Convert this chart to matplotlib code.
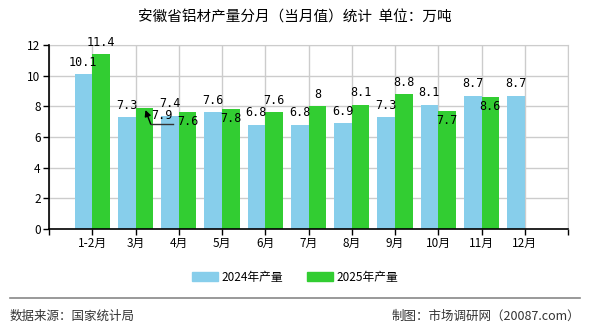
import numpy as np
import matplotlib.pyplot as plt
from matplotlib.lines import Line2D

plt.rcParams['font.family'] = ['Noto Sans CJK SC', 'DejaVu Sans']

months = ['1-2月', '3月', '4月', '5月', '6月', '7月', '8月', '9月', '10月', '11月', '12月']
y2024 = [10.1, 7.3, 7.4, 7.6, 6.8, 6.8, 6.9, 7.3, 8.1, 8.7, 8.7]
y2025 = [11.4, 7.9, 7.6, 7.8, 7.6, 8, 8.1, 8.8, 7.7, 8.6]

# where each 2025 label sits: above the bar, inside it, or pulled out with a leader line
place25 = ['up', 'leader', 'in', 'in', 'up', 'up', 'up', 'up', 'in', 'in']

fig = plt.figure(figsize=(5.9, 3.3), dpi=100)
ax = fig.add_axes([49 / 590, 1 - 229 / 330, 519 / 590, 184 / 330])

x = np.arange(len(months))
w = 0.41
blue = '#87ceeb'
green = '#32cd32'
ax.bar(x - w / 2, y2024, w, color=blue, zorder=2)
x25 = x[:len(y2025)]
ax.bar(x25 + w / 2, y2025, w, color=green, zorder=2)

lab = dict(fontsize=8.5, family=['DejaVu Sans Mono', 'Noto Sans CJK SC'], zorder=4)
for xi, v in zip(x, y2024):
    ax.annotate(f'{v:g}', (xi - w / 2, v), xytext=(0, 4), textcoords='offset points',
                ha='center', va='bottom', **lab)
for xi, v, p in zip(x25, y2025, place25):
    if p == 'leader':
        # elbow leader: short horizontal line, then arrow up to the bar top
        x0, y0 = xi + 0.35, v - 1.05
        ax.plot([x0, x0 + 0.51], [y0, y0], color='#333333', lw=1, zorder=4)
        ax.annotate('', (x0 - 0.12, v - 0.14), xytext=(x0, y0),
                    arrowprops=dict(arrowstyle='-|>', color='black', lw=1, shrinkA=0, shrinkB=0,
                                    mutation_scale=9), zorder=4)
        ax.text(x0 + 0.25, y0 + 0.1, f'{v:g}', ha='center', va='bottom', **lab)
    elif p == 'in':
        ax.annotate(f'{v:g}', (xi + w / 2, v), xytext=(0, -2), textcoords='offset points',
                    ha='center', va='top', **lab)
    else:
        ax.annotate(f'{v:g}', (xi + w / 2, v), xytext=(0, 4), textcoords='offset points',
                    ha='center', va='bottom', **lab)

ax.set_xlim(-1, 11)
ax.set_ylim(0, 12)
ax.set_yticks(range(0, 13, 2))
ax.set_xticks(range(-1, 12))
ax.set_xticklabels([''] + months + [''])
ax.tick_params(axis='both', labelsize=8.5, length=4, width=1, color='black', pad=2)
ax.grid(True, color='#cccccc', lw=1, zorder=0)
for s in ['top', 'right']:
    ax.spines[s].set_color('#cccccc')
for s in ['left', 'bottom']:
    ax.spines[s].set_color('black')
    ax.spines[s].set_linewidth(1.2)
ax.spines['left'].set_zorder(3)
ax.spines['bottom'].set_zorder(3)

fig.text(0.5, 1 - 18 / 330, '安徽省铝材产量分月（当月值）统计  单位：万吨', ha='center', va='center',
         fontsize=10.5)

handles = [plt.Rectangle((0, 0), 1, 1, color=blue), plt.Rectangle((0, 0), 1, 1, color=green)]
fig.legend(handles, ['2024年产量', '2025年产量'], loc='center', bbox_to_anchor=(0.5, 1 - 277 / 330),
           ncol=2, frameon=False, fontsize=8.5, handlelength=2.2, handleheight=0.8,
           columnspacing=2.0, handletextpad=0.3)

fig.add_artist(Line2D([10 / 590, 580 / 590], [1 - 298 / 330] * 2, color='#888888', lw=1.2))
fig.text(10 / 590, 1 - 316 / 330, '数据来源：国家统计局', ha='left', va='center', fontsize=9, color='#333333')
fig.text(580 / 590, 1 - 316 / 330, '制图：市场调研网（20087.com）', ha='right', va='center', fontsize=9,
         color='#333333')

fig.savefig('out.png', dpi=100)
